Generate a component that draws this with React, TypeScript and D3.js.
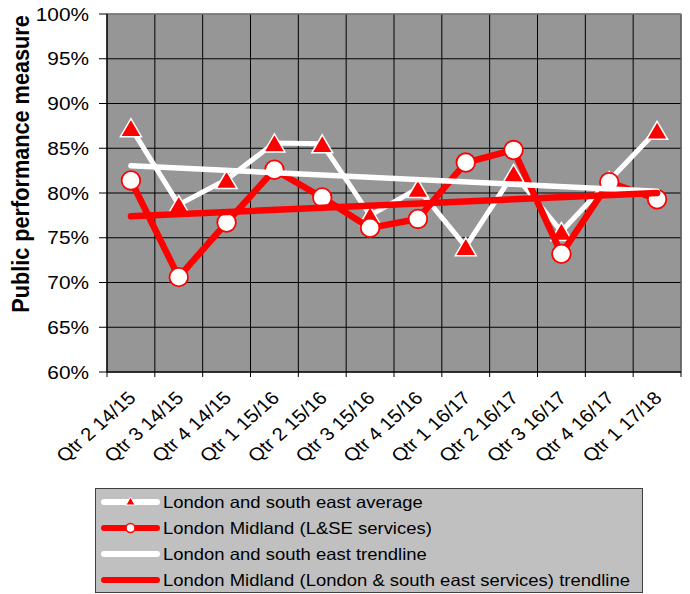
import React from 'react';
import * as d3 from 'd3';

const categories = ['Qtr 2 14/15','Qtr 3 14/15','Qtr 4 14/15','Qtr 1 15/16','Qtr 2 15/16','Qtr 3 15/16','Qtr 4 15/16','Qtr 1 16/17','Qtr 2 16/17','Qtr 3 16/17','Qtr 4 16/17','Qtr 1 17/18'];
const lseAverage = [87.3, 78.7, 81.5, 85.6, 85.5, 77.5, 80.5, 74.0, 82.2, 75.7, 81.4, 87.0];
const londonMidland = [81.4, 70.6, 76.7, 82.6, 79.5, 76.1, 77.1, 83.4, 84.8, 73.2, 81.2, 79.3];
const lseTrend = [83.05, 80.2];
const lmTrend = [77.4, 80.0];
const yTicks = [60, 65, 70, 75, 80, 85, 90, 95, 100];
const legendLabels = ['London and south east average', 'London Midland (L&SE services)', 'London and south east trendline', 'London Midland (London & south east services) trendline'];

const W = 690, H = 594;
const X0 = 107, X1 = 681, Y0 = 14, Y1 = 372;
const SX = 1.12;
const FONT = '"Liberation Sans", Arial, sans-serif';

export default function App() {
  const x = d3.scaleBand<string>().domain(categories).range([X0, X1]).padding(0);
  const cx = (c: string) => (x(c) as number) + x.bandwidth() / 2;
  const y = d3.scaleLinear().domain([60, 100]).range([Y1, Y0]);
  const line = d3.line<[number, number]>().x(d => d[0]).y(d => d[1]);

  const avgPts: [number, number][] = categories.map((c, i) => [cx(c), y(lseAverage[i])]);
  const lmPts: [number, number][] = categories.map((c, i) => [cx(c), y(londonMidland[i])]);
  const first = categories[0], last = categories[categories.length - 1];
  const avgTrendPts: [number, number][] = [[cx(first), y(lseTrend[0])], [cx(last), y(lseTrend[1])]];
  const lmTrendPts: [number, number][] = [[cx(first), y(lmTrend[0])], [cx(last), y(lmTrend[1])]];

  const tri = (px: number, py: number, w: number, h: number) =>
    `M${px},${py - h / 2}L${px + w / 2},${py + h / 2}L${px - w / 2},${py + h / 2}Z`;

  const boundaries = d3.range(categories.length + 1).map(i => X0 + i * x.bandwidth());

  const legY = [502, 528, 554, 580];

  return (
    <svg width={W} height={H} style={{ position: 'absolute', left: 0, top: 0 }} fontFamily={FONT}>
      <rect x={0} y={0} width={W} height={H} fill="#fff" />
      <rect x={X0} y={Y0} width={X1 - X0} height={Y1 - Y0} fill="#969696" stroke="#a0a0a0" strokeWidth={1} />
      {yTicks.map(t => (
        <line key={'h' + t} x1={X0} x2={X1} y1={y(t)} y2={y(t)} stroke="#000" strokeWidth={1} />
      ))}
      {boundaries.map((b, i) => (
        <line key={'v' + i} x1={b} x2={b} y1={Y0} y2={Y1} stroke="#000" strokeWidth={1} />
      ))}
      <line x1={X1} x2={X1} y1={Y0} y2={Y1} stroke="#808080" strokeWidth={1} />
      <line x1={X0} x2={X1} y1={Y0} y2={Y0} stroke="#a8a8a8" strokeWidth={1} />
      {/* axes */}
      <line x1={X0} x2={X0} y1={Y0} y2={Y1} stroke="#000" strokeWidth={1} />
      <line x1={X0} x2={X1} y1={Y1} y2={Y1} stroke="#000" strokeWidth={1} />
      {yTicks.map(t => (
        <line key={'yt' + t} x1={X0 - 8} x2={X0} y1={y(t)} y2={y(t)} stroke="#000" strokeWidth={1} />
      ))}
      {boundaries.map((b, i) => (
        <line key={'xt' + i} x1={b} x2={b} y1={Y1} y2={Y1 + 5} stroke="#000" strokeWidth={1} />
      ))}
      {yTicks.map(t => (
        <text key={'yl' + t} transform={`translate(89,${y(t)}) scale(${SX},1)`} textAnchor="end" dy="0.36em" fontSize={18.6} fill="#000">{t}%</text>
      ))}
      {categories.map(c => (
        <text key={'xl' + c} transform={`translate(${cx(c) + 6},${399}) scale(${SX},1) rotate(-45)`} textAnchor="end" fontSize={18.2} fill="#000">{c}</text>
      ))}
      <text transform={`translate(29,164) scale(${SX},1) rotate(-90)`} textAnchor="middle" fontSize={21.7} fontWeight="bold" fill="#000">Public performance measure</text>

      {/* series */}
      <path d={line(avgPts) as string} fill="none" stroke="#fff" strokeWidth={5} strokeLinejoin="round" />
      {avgPts.map((p, i) => (
        <path key={'at' + i} d={tri(p[0], p[1], 21, 18)} fill="#ff0000" stroke="#fff" strokeWidth={1.5} strokeLinejoin="miter" />
      ))}
      <path d={line(lmPts) as string} fill="none" stroke="#ff0000" strokeWidth={6.5} strokeLinejoin="round" />
      {lmPts.map((p, i) => (
        <circle key={'lc' + i} cx={p[0]} cy={p[1]} r={9.3} fill="#fff" stroke="#ff0000" strokeWidth={1.8} />
      ))}
      <path d={line(avgTrendPts) as string} fill="none" stroke="#fff" strokeWidth={5.5} strokeLinecap="round" />
      <path d={line(lmTrendPts) as string} fill="none" stroke="#ff0000" strokeWidth={6.5} strokeLinecap="round" />

      {/* legend */}
      <rect x={95.5} y={488.5} width={547} height={104} fill="#c0c0c0" stroke="#404040" strokeWidth={1} />
      {legendLabels.map((l, i) => {
        const ly = legY[i];
        const isRed = i === 1 || i === 3;
        return (
          <g key={'lg' + i}>
            <line x1={104} x2={157} y1={ly} y2={ly} stroke={isRed ? '#ff0000' : '#fff'} strokeWidth={6} strokeLinecap="round" />
            {i === 0 && <path d={tri(130.5, ly - 1, 9, 8)} fill="#ff0000" stroke="#fff" strokeWidth={1} />}
            {i === 1 && <circle cx={130.5} cy={ly} r={4.5} fill="#fff" stroke="#ff0000" strokeWidth={1.5} />}
            <text transform={`translate(163,${ly}) scale(${SX},1)`} dy="0.36em" fontSize={16.5} fill="#000">{l}</text>
          </g>
        );
      })}
    </svg>
  );
}
